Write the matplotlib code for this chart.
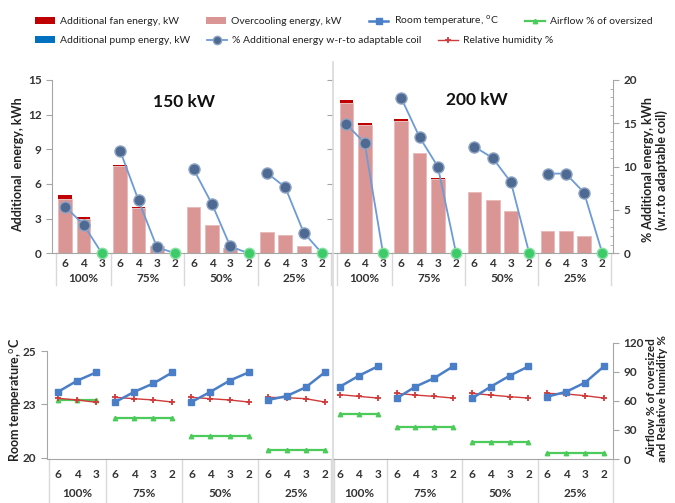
"""Additional energy / room conditions for oversized coils, 150 kW vs 200 kW."""

import matplotlib
matplotlib.use("Agg")
import matplotlib.pyplot as plt
import matplotlib.transforms as mtransforms
from matplotlib.lines import Line2D
from matplotlib.patches import Patch
from matplotlib.ticker import MultipleLocator
import numpy as np

plt.rcParams["font.family"] = ["Lato", "DejaVu Sans"]

# ---- data -----------------------------------------------------------------
GROUPS = ["100%", "75%", "50%", "25%"]
COILS = [["6", "4", "3"], ["6", "4", "3", "2"], ["6", "4", "3", "2"], ["6", "4", "3", "2"]]

# top: additional energy (kWh) and % additional energy w.r.t. adaptable coil
overcool_150 = [4.70, 2.97, 0, 7.53, 3.90, 0.60, 0, 4.00, 2.45, 0.43, 0, 1.88, 1.56, 0.60, 0]
fan_150 = [0.35, 0.20, 0, 0.12, 0.10, 0, 0, 0, 0, 0, 0, 0, 0, 0, 0]
pump_150 = [0, 0, 0, 0, 0, 0, 0, 0, 0, 0, 0, 0, 0, 0, 0]
pct_150 = [5.4, 3.3, 0, 11.8, 6.1, 0.7, 0, 9.7, 5.7, 0.8, 0, 9.3, 7.6, 2.4, 0]

overcool_200 = [13.00, 11.14, 0, 11.42, 8.65, 6.47, 0, 5.28, 4.64, 3.63, 0, 1.93, 1.93, 1.50, 0]
fan_200 = [0.30, 0.12, 0, 0.17, 0.06, 0.05, 0, 0, 0, 0, 0, 0, 0, 0, 0]
pump_200 = [0, 0, 0, 0, 0, 0, 0, 0, 0, 0, 0, 0, 0, 0, 0]
pct_200 = [14.9, 12.7, 0, 17.9, 13.4, 10.0, 0, 12.3, 11.0, 8.2, 0, 9.2, 9.2, 7.0, 0]

# bottom: room temperature (C), relative humidity (%), airflow % of oversized
temp_150 = [23.09, 23.61, 24.00, 22.61, 23.09, 23.48, 24.00, 22.61, 23.09, 23.61, 24.00,
            22.70, 22.89, 23.30, 24.00]
rh_150 = [62.6, 60.9, 58.5, 63.6, 62.2, 60.9, 58.8, 63.6, 62.2, 60.9, 58.8, 63.6, 63.3, 62.2, 58.8]
air_150 = [61.0, 61.0, 61.0, 42.6, 42.6, 42.6, 42.6, 23.7, 23.7, 23.7, 23.7, 9.6, 9.6, 9.6, 9.6]

temp_200 = [23.33, 23.84, 24.28, 22.78, 23.33, 23.73, 24.28, 22.78, 23.33, 23.84, 24.28,
            22.86, 23.09, 23.52, 24.28]
rh_200 = [66.4, 64.6, 62.9, 67.7, 66.0, 64.6, 62.9, 67.7, 66.0, 64.3, 62.9, 67.7, 67.1, 65.3, 62.9]
air_200 = [46.4, 46.4, 46.4, 32.7, 32.7, 32.7, 32.7, 17.5, 17.5, 17.5, 17.5, 6.5, 6.5, 6.5, 6.5]

# ---- style ----------------------------------------------------------------
PINK = "#D99694"
PINK_EDGE = "#E9B9B8"
FAN_RED = "#C00000"
PUMP_BLUE = "#0070C0"
DOT = "#4F6A92"
DOT_EDGE = "#8FA5C4"
LINE_BLUE = "#6C9BD6"
GREEN_DOT = "#3DCB6A"
TEMP_BLUE = "#4A7EC7"
RH_RED = "#D03A3A"
AIR_GREEN = "#4CCB5A"
GRID = "#A6A6A6"
SEP = "#D9D9D9"
TXT = "#333333"

W, H = 675, 503

labels = [c for g in COILS for c in g]
starts = np.cumsum([0] + [len(g) for g in COILS])
x = np.arange(len(labels))


def fig_rect(left, right, top, bottom):
    return [left / W, 1 - bottom / H, (right - left) / W, (bottom - top) / H]


def categories(ax, label_pad, group_y, sep_y):
    ax.set_xticks(x, labels, fontweight="bold", fontsize=8.5, color=TXT)
    ax.tick_params(axis="x", length=0, pad=label_pad)
    trans = mtransforms.blended_transform_factory(ax.transData, ax.transAxes)
    for i, g in enumerate(GROUPS):
        mid = (starts[i] + starts[i + 1] - 1) / 2
        ax.text(mid, group_y, g, transform=trans, ha="center", va="center",
                fontsize=8.5, fontweight="bold", color=TXT)
    for b in starts:
        ax.add_line(Line2D([b - 0.5, b - 0.5], [0, sep_y], transform=trans,
                           color=SEP, lw=1.0, clip_on=False))


def top_panel(rect, overcool, fan, pump, pct, title, title_xy, left_axis):
    ax = fig.add_axes(rect)
    overcool, fan, pump, pct = map(np.asarray, (overcool, fan, pump, pct))
    ax.bar(x, overcool, width=0.75, color=PINK, edgecolor=PINK_EDGE, lw=0.6)
    ax.bar(x, fan, bottom=overcool, width=0.75, color=FAN_RED, lw=0)
    ax.bar(x, pump, bottom=overcool + fan, width=0.75, color=PUMP_BLUE, lw=0)
    ax.set_xlim(-0.72, 14.6)
    ax.set_ylim(0, 15)
    for s in ["top", "right"]:
        ax.spines[s].set_visible(False)
    ax.spines["bottom"].set_color(GRID)
    ax.spines["left"].set_color(GRID)
    ax.set_yticks(np.arange(0, 16, 3))
    ax.tick_params(axis="y", length=4, color=GRID, labelsize=8.5, labelcolor=TXT)
    for t in ax.get_yticklabels():
        t.set_fontweight("bold")
    if not left_axis:
        ax.spines["left"].set_visible(False)
        ax.tick_params(axis="y", left=False, labelleft=False)
    categories(ax, 3.5, -0.143, -0.185)
    ax.text(*title_xy, title, transform=ax.transAxes, ha="center", va="center",
            fontsize=12.5, fontweight="bold", color="#111111")

    tw = ax.twinx()
    tw.set_ylim(0, 20)
    for a, b in zip(starts[:-1], starts[1:]):
        seg = slice(a, b)
        tw.plot(x[seg], pct[seg], color=LINE_BLUE, lw=1.3, zorder=2)
        nz = pct[seg] > 0
        tw.plot(x[seg][nz], pct[seg][nz], "o", ms=8, mfc=DOT, mec=DOT_EDGE,
                mew=1.0, zorder=3, clip_on=False)
        tw.plot(x[seg][~nz], pct[seg][~nz], "o", ms=7.5, mfc=GREEN_DOT,
                mec="#86E0A2", mew=1.0, zorder=3, clip_on=False)
    for s in ["top", "left", "bottom"]:
        tw.spines[s].set_visible(False)
    if left_axis:
        tw.spines["right"].set_visible(False)
        tw.tick_params(axis="y", right=False, labelright=False)
    else:
        tw.spines["right"].set_color(GRID)
        tw.set_yticks(np.arange(0, 21, 5))
        tw.yaxis.set_minor_locator(MultipleLocator(1))
        tw.tick_params(axis="y", which="major", length=4, color=GRID,
                       labelsize=8.5, labelcolor=TXT)
        tw.tick_params(axis="y", which="minor", length=2, color=GRID, direction="in")
        for t in tw.get_yticklabels():
            t.set_fontweight("bold")
    return ax, tw


def bottom_panel(rect, xlim, temp, rh, air, left_axis):
    ax = fig.add_axes(rect)
    tw = ax.twinx()
    ax.set_zorder(tw.get_zorder() + 1)
    ax.patch.set_visible(False)
    ax.set_xlim(*xlim)
    ax.set_ylim(19.94, 25.39)
    tw.set_ylim(0, 120)
    temp, rh, air = map(np.asarray, (temp, rh, air))
    handles = {}
    for a, b in zip(starts[:-1], starts[1:]):
        seg = slice(a, b)
        handles["air"], = tw.plot(x[seg], air[seg], color=AIR_GREEN, lw=1.6,
                                  marker="^", ms=3.2)
        handles["rh"], = tw.plot(x[seg], rh[seg], color=RH_RED, lw=1.0,
                                 marker="+", ms=4, mew=1.3)
        handles["temp"], = ax.plot(x[seg], temp[seg], color=TEMP_BLUE, lw=1.8,
                                   marker="s", ms=4)
    for s in ["top", "right"]:
        ax.spines[s].set_visible(False)
    for s in ["top", "left", "bottom"]:
        tw.spines[s].set_visible(False)
    ax.spines["bottom"].set_color(GRID)
    categories(ax, 7, -0.295, -0.38)
    if left_axis:
        ax.spines["left"].set_color(GRID)
        ax.spines["left"].set_bounds(20, 25)
        ax.set_yticks([20, 22.5, 25], ["20", "23", "25"])
        ax.tick_params(axis="y", length=4, color=GRID, labelsize=8.5, labelcolor=TXT)
        for t in ax.get_yticklabels():
            t.set_fontweight("bold")
        tw.spines["right"].set_visible(False)
        tw.tick_params(axis="y", right=False, labelright=False)
    else:
        ax.spines["left"].set_visible(False)
        ax.tick_params(axis="y", left=False, labelleft=False)
        tw.spines["right"].set_color(GRID)
        tw.spines["right"].set_bounds(0, 120)
        tw.set_yticks(np.arange(0, 121, 30))
        tw.tick_params(axis="y", length=4, color=GRID, labelsize=8.5, labelcolor=TXT)
        for t in tw.get_yticklabels():
            t.set_fontweight("bold")
    return handles


fig = plt.figure(figsize=(W / 100, H / 100), dpi=100)

ax150, _ = top_panel(fig_rect(52, 333, 80, 253.3), overcool_150, fan_150, pump_150,
                     pct_150, "150 kW", (0.47, 0.875), True)
ax200, tw200 = top_panel(fig_rect(333.3, 613.3, 80, 253.3), overcool_200, fan_200,
                         pump_200, pct_200, "200 kW", (0.512, 0.885), False)
h = bottom_panel(fig_rect(46.7, 334.3, 342.7, 459), (-0.6, 14.5),
                 temp_150, rh_150, air_150, True)
bottom_panel(fig_rect(333, 613.3, 342.7, 459), (-0.37, 14.5),
             temp_200, rh_200, air_200, False)

# panel divider
fig.add_artist(Line2D([333 / W, 333 / W], [0, 1 - 62 / H], transform=fig.transFigure,
                      color=SEP, lw=1.2))

# axis titles
fig.text(18 / W, 1 - 165 / H, "Additional  energy, kWh", rotation=90, ha="center",
         va="center", fontsize=9, fontweight="bold", color="#222222")
fig.text(655 / W, 1 - 170 / H, "% Additional energy, kWh\n(w.r.to adaptable coil)",
         rotation=90, ha="center", va="center", fontsize=9, fontweight="bold",
         color="#222222", linespacing=1.1)
fig.text(15 / W, 1 - 400 / H, "Room temperature,$^{\\rm o}$C", rotation=90,
         ha="center", va="center", fontsize=9, fontweight="bold", color="#222222")
fig.text(657 / W, 1 - 398 / H, "Airflow % of oversized\nand Relative humidity %",
         rotation=90, ha="center", va="center", fontsize=8.5, fontweight="bold",
         color="#222222", linespacing=1.05)

# legend (two rows)
leg_kw = dict(loc="upper left", frameon=False, fontsize=7.5, handlelength=1.9,
              handletextpad=0.5, borderpad=0, borderaxespad=0, labelcolor="#222222")
row1 = [Patch(fc=FAN_RED), Patch(fc=PINK), h["temp"], h["air"]]
fig.legend(row1, ["Additional fan energy, kW", "Overcooling energy, kW",
                  "Room temperature, $^{\\rm o}$C", "Airflow % of oversized"],
           ncol=4, columnspacing=2.6, bbox_to_anchor=(35 / W, 1 - 14 / H), **leg_kw)
dot_handle = Line2D([], [], color=LINE_BLUE, lw=1.3, marker="o", ms=6,
                    mfc=DOT, mec=DOT_EDGE)
row2 = [Patch(fc=PUMP_BLUE), dot_handle, h["rh"]]
fig.legend(row2, ["Additional pump energy, kW",
                  "% Additional energy w-r-to adaptable coil", "Relative humidity %"],
           ncol=3, columnspacing=1.6, bbox_to_anchor=(35 / W, 1 - 36 / H), **leg_kw)

fig.savefig("out.png", dpi=100)
plt.close(fig)
